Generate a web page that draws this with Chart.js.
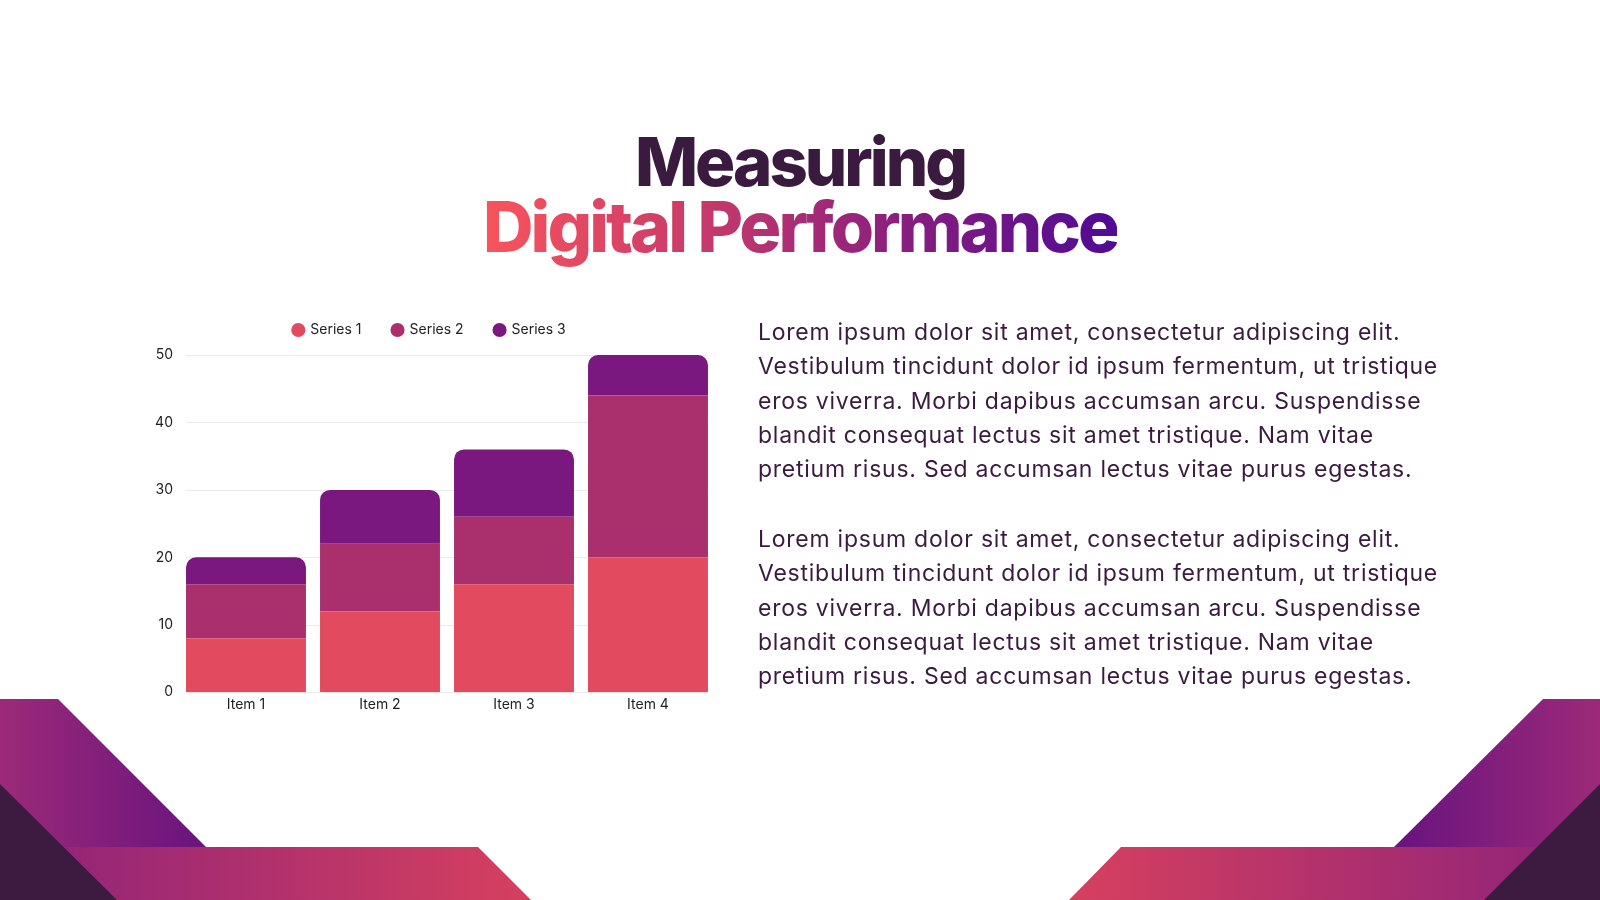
<!DOCTYPE html>
<html>
<head>
<meta charset="utf-8">
<script src="https://cdn.jsdelivr.net/npm/chart.js@4.4.1/dist/chart.umd.min.js"></script>
<style>
  html, body { margin: 0; padding: 0; background: #ffffff; }
  body { width: 1600px; height: 900px; position: relative; overflow: hidden; font-family: "Inter", "Open Sans", sans-serif; }
  #deco { position: absolute; left: 0; top: 0; width: 1600px; height: 900px; }
  .title { position: absolute; left: 0; width: 1600px; text-align: center; font-family: "Inter", sans-serif; font-weight: 800; margin: 0; }
  #t1 { top: 120px; font-size: 67px; line-height: 84px; color: #3b1a3f; letter-spacing: -3px; }
  #t2 { top: 185px; font-size: 70px; line-height: 84px; letter-spacing: -3px; }
  #t2 span { background: linear-gradient(90deg, #f9545c 0%, #c63a6b 35%, #8b1f7e 65%, #4f0a94 100%); -webkit-background-clip: text; background-clip: text; color: transparent; }
  .para { position: absolute; left: 758px; font-size: 23px; line-height: 34.3px; letter-spacing: 0.75px; color: #3b1a3f; white-space: nowrap; margin: 0; }
  #p1 { top: 315px; }
  #p2 { top: 522px; }
  #chartBox { position: absolute; left: 130px; top: 292px; width: 585px; height: 425px; }
</style>
</head>
<body>
<canvas id="deco" width="1600" height="900"></canvas>
<div class="title" id="t1">Measuring</div>
<div class="title" id="t2"><span>Digital Performance</span></div>
<p class="para" id="p1">Lorem ipsum dolor sit amet, consectetur adipiscing elit.<br>Vestibulum tincidunt dolor id ipsum fermentum, ut tristique<br>eros viverra. Morbi dapibus accumsan arcu. Suspendisse<br>blandit consequat lectus sit amet tristique. Nam vitae<br>pretium risus. Sed accumsan lectus vitae purus egestas.</p>
<p class="para" id="p2">Lorem ipsum dolor sit amet, consectetur adipiscing elit.<br>Vestibulum tincidunt dolor id ipsum fermentum, ut tristique<br>eros viverra. Morbi dapibus accumsan arcu. Suspendisse<br>blandit consequat lectus sit amet tristique. Nam vitae<br>pretium risus. Sed accumsan lectus vitae purus egestas.</p>
<div id="chartBox"><canvas id="chart"></canvas></div>
<script>
// ---- data ----
const categories = ["Item 1", "Item 2", "Item 3", "Item 4"];
const seriesNames = ["Series 1", "Series 2", "Series 3"];
const series1 = [8, 12, 16, 20];
const series2 = [8, 10, 10, 24];
const series3 = [4, 8, 10, 6];
const yTicks = [0, 10, 20, 30, 40, 50];
const seriesColors = ["#e24a5f", "#a9306d", "#7b1880"];

// ---- decorative shapes ----
(function () {
  const c = document.getElementById('deco').getContext('2d');
  function poly(pts, fill) {
    c.beginPath();
    c.moveTo(pts[0][0], pts[0][1]);
    for (let i = 1; i < pts.length; i++) c.lineTo(pts[i][0], pts[i][1]);
    c.closePath();
    c.fillStyle = fill;
    c.fill();
  }
  let g = c.createLinearGradient(0, 0, 210, 0);
  g.addColorStop(0, '#9c2a78'); g.addColorStop(1, '#68137f');
  poly([[0, 699], [58, 699], [207, 848], [0, 848]], g);
  g = c.createLinearGradient(60, 0, 531, 0);
  g.addColorStop(0, '#942577'); g.addColorStop(1, '#d6405f');
  poly([[0, 847], [478, 847], [531, 900], [0, 900]], g);
  poly([[0, 784], [117, 900], [0, 900]], '#3d1a40');
  g = c.createLinearGradient(1392, 0, 1600, 0);
  g.addColorStop(0, '#68137f'); g.addColorStop(1, '#9c2a78');
  poly([[1543, 699], [1600, 699], [1600, 848], [1393, 848]], g);
  g = c.createLinearGradient(1069, 0, 1540, 0);
  g.addColorStop(0, '#d6405f'); g.addColorStop(1, '#942577');
  poly([[1121, 847], [1600, 847], [1600, 900], [1069, 900]], g);
  poly([[1600, 784], [1600, 900], [1484, 900]], '#3d1a40');
})();

// ---- chart ----
const seriesData = [series1, series2, series3];
const datasets = seriesData.map((d, i) => ({
  label: seriesNames[i],
  data: d,
  backgroundColor: seriesColors[i],
  borderWidth: 0,
  borderSkipped: false,
  borderRadius: i === seriesData.length - 1 ? { topLeft: 10, topRight: 10, bottomLeft: 0, bottomRight: 0 } : 0,
  barPercentage: 0.895,
  categoryPercentage: 1.0
}));

// grid lines spanning from the first bar's left edge to the last bar's right edge
const barGrid = {
  id: 'barGrid',
  beforeDatasetsDraw(chart) {
    const meta = chart.getDatasetMeta(0);
    if (!meta.data.length) return;
    const first = meta.data[0], last = meta.data[meta.data.length - 1];
    const x0 = first.x - first.width / 2, x1 = last.x + last.width / 2;
    const ys = chart.scales.y;
    const ctx = chart.ctx;
    ctx.save();
    ctx.strokeStyle = '#ebebeb';
    ctx.lineWidth = 1;
    ys.ticks.forEach(t => {
      const y = Math.round(ys.getPixelForValue(t.value)) + 0.5;
      ctx.beginPath(); ctx.moveTo(x0, y); ctx.lineTo(x1, y); ctx.stroke();
    });
    ctx.restore();
  }
};
const legendMargin = {
  id: 'legendMargin',
  beforeInit(chart) {
    const orig = chart.legend.fit;
    chart.legend.fit = function () { orig.call(this); this.height += 8; };
  },
  afterLayout(chart) {
    chart.legend.left += 7;
    chart.legend.right += 7;
  }
};

new Chart(document.getElementById('chart'), {
  type: 'bar',
  data: { labels: categories, datasets: datasets },
  plugins: [barGrid, legendMargin],
  options: {
    responsive: true,
    maintainAspectRatio: false,
    animation: false,
    layout: { padding: 0 },
    plugins: {
      legend: {
        position: 'top',
        labels: {
          usePointStyle: true,
          pointStyle: 'circle',
          boxWidth: 10,
          boxHeight: 10,
          padding: 31,
          color: '#222222',
          font: { family: 'Inter, sans-serif', size: 14 }
        }
      },
      tooltip: { enabled: false }
    },
    scales: {
      x: {
        stacked: true,
        grid: { display: false, drawTicks: false },
        border: { display: false },
        ticks: { color: '#222222', font: { family: 'Inter, sans-serif', size: 14 }, padding: 4 }
      },
      y: {
        stacked: true,
        min: 0,
        max: 50,
        afterBuildTicks: (scale) => { scale.ticks = yTicks.map(v => ({ value: v })); },
        afterFit: (scale) => { scale.width = 49; },
        grid: { display: false, drawTicks: false },
        border: { display: false },
        ticks: { color: '#222222', font: { family: 'Inter, sans-serif', size: 14 }, padding: 6 }
      }
    }
  }
});
</script>
</body>
</html>
